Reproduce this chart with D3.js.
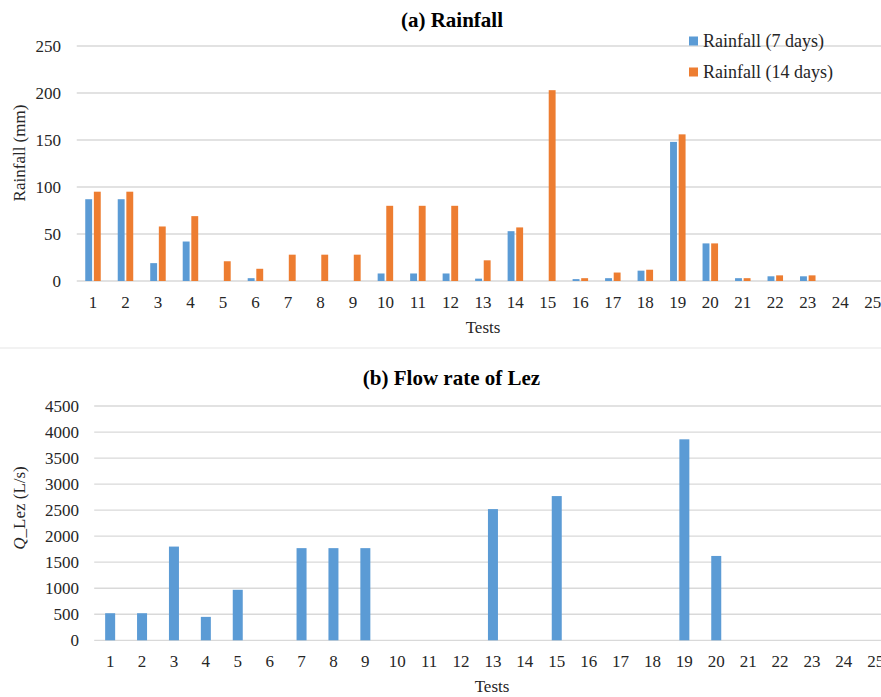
<!DOCTYPE html>
<html><head><meta charset="utf-8">
<script src="https://cdn.jsdelivr.net/npm/d3@7"></script>
<style>
body{margin:0;background:#fff;}
text{font-family:"Liberation Serif","Times New Roman",serif;fill:#262626;}
</style></head>
<body><svg id="chart" width="881" height="697"></svg>
<script>
const tests = d3.range(1, 26).map(String);
const rain7 = [87,87,19,42,0,3,0,0,0,8,8,8,2.5,53,0,2,3,11,148,40,3,5,5,0,0];
const rain14 = [95,95,58,69,21,13,28,28,28,80,80,80,22,57,203,3,9,12,156,40,3,6,6,0,0];
const flow = [520,520,1800,450,970,0,1770,1770,1770,0,0,0,2520,0,2770,0,0,0,3860,1620,0,0,0,0,0];
const rainTicks = [0,50,100,150,200,250];
const flowTicks = d3.range(0, 4501, 500);
const seriesNames = ["Rainfall (7 days)", "Rainfall (14 days)"];
const colors = ["#5b9bd5", "#ed7d31"];

const svg = d3.select("#chart");
const grid = "#d9d9d9";

// ---------- Panel (a) ----------
const xA = d3.scaleBand().domain(tests).range([76.75, 889]);
const yA = d3.scaleLinear().domain([0, 250]).range([281, 46]);
const sub = d3.scaleBand().domain([0,1]).range([-7.75, 7.75]).paddingInner(0.2);

const gA = svg.append("g");
gA.selectAll("line.grid").data(rainTicks).join("line")
  .attr("x1", 76.75).attr("x2", 889)
  .attr("y1", d => yA(d)).attr("y2", d => yA(d))
  .attr("stroke", grid).attr("stroke-width", 1.3);
gA.selectAll("text.yt").data(rainTicks).join("text")
  .attr("x", 61).attr("y", d => yA(d)).attr("dy", "0.35em")
  .attr("text-anchor", "end").attr("font-size", 17).text(d => d);

const seriesA = [rain7, rain14];
seriesA.forEach((vals, si) => {
  gA.append("g").selectAll("rect").data(vals).join("rect")
    .attr("x", (d, i) => xA(tests[i]) + xA.bandwidth()/2 + sub(si))
    .attr("width", sub.bandwidth())
    .attr("y", d => yA(d))
    .attr("height", d => yA(0) - yA(d))
    .attr("fill", colors[si]);
});
gA.selectAll("text.xt").data(tests).join("text")
  .attr("x", d => xA(d) + xA.bandwidth()/2).attr("y", 302).attr("dy", "0.35em")
  .attr("text-anchor", "middle").attr("font-size", 17).text(d => d);
gA.append("text").attr("x", 483).attr("y", 327).attr("dy", "0.35em")
  .attr("text-anchor", "middle").attr("font-size", 17).text("Tests");
gA.append("text").attr("transform", "translate(19,153) rotate(-90)").attr("dy", "0.35em")
  .attr("text-anchor", "middle").attr("font-size", 17).text("Rainfall (mm)");
gA.append("text").attr("x", 452).attr("y", 20).attr("dy", "0.35em")
  .attr("text-anchor", "middle").attr("font-size", 21).attr("font-weight", "bold")
  .style("fill", "#000").text("(a) Rainfall");

// legend
const leg = gA.append("g");
seriesNames.forEach((name, i) => {
  const yy = 41 + i * 31;
  leg.append("rect").attr("x", 689).attr("y", yy - 4.5).attr("width", 9).attr("height", 9).attr("fill", colors[i]);
  leg.append("text").attr("x", 703).attr("y", yy).attr("dy", "0.35em")
    .attr("font-size", 18).text(name);
});

// separator
svg.append("line").attr("x1", 0).attr("x2", 881).attr("y1", 348).attr("y2", 348)
  .attr("stroke", "#f2f2f2").attr("stroke-width", 2);

// ---------- Panel (b) ----------
const xB = d3.scaleBand().domain(tests).range([94.2, 891.7]);
const yB = d3.scaleLinear().domain([0, 4500]).range([640.3, 406]);
const gB = svg.append("g");
gB.selectAll("line.grid").data(flowTicks).join("line")
  .attr("x1", 94.2).attr("x2", 891.7)
  .attr("y1", d => yB(d)).attr("y2", d => yB(d))
  .attr("stroke", grid).attr("stroke-width", 1.3);
gB.selectAll("text.yt").data(flowTicks).join("text")
  .attr("x", 79).attr("y", d => yB(d)).attr("dy", "0.35em")
  .attr("text-anchor", "end").attr("font-size", 17).text(d => d);
gB.append("g").selectAll("rect").data(flow).join("rect")
  .attr("x", (d, i) => xB(tests[i]) + xB.bandwidth()/2 - 5)
  .attr("width", 10)
  .attr("y", d => yB(d))
  .attr("height", d => yB(0) - yB(d))
  .attr("fill", colors[0]);
gB.selectAll("text.xt").data(tests).join("text")
  .attr("x", d => xB(d) + xB.bandwidth()/2).attr("y", 661.5).attr("dy", "0.35em")
  .attr("text-anchor", "middle").attr("font-size", 17).text(d => d);
gB.append("text").attr("x", 492).attr("y", 686).attr("dy", "0.35em")
  .attr("text-anchor", "middle").attr("font-size", 17).text("Tests");
const yl = gB.append("text").attr("transform", "translate(19,508) rotate(-90)").attr("dy", "0.35em")
  .attr("text-anchor", "middle").attr("font-size", 17);
yl.append("tspan").attr("font-style", "italic").text("Q");
yl.append("tspan").text("_Lez (L/s)");
gB.append("text").attr("x", 451.5).attr("y", 378).attr("dy", "0.35em")
  .attr("text-anchor", "middle").attr("font-size", 21).attr("font-weight", "bold")
  .style("fill", "#000").text("(b) Flow rate of Lez");
</script></body></html>
